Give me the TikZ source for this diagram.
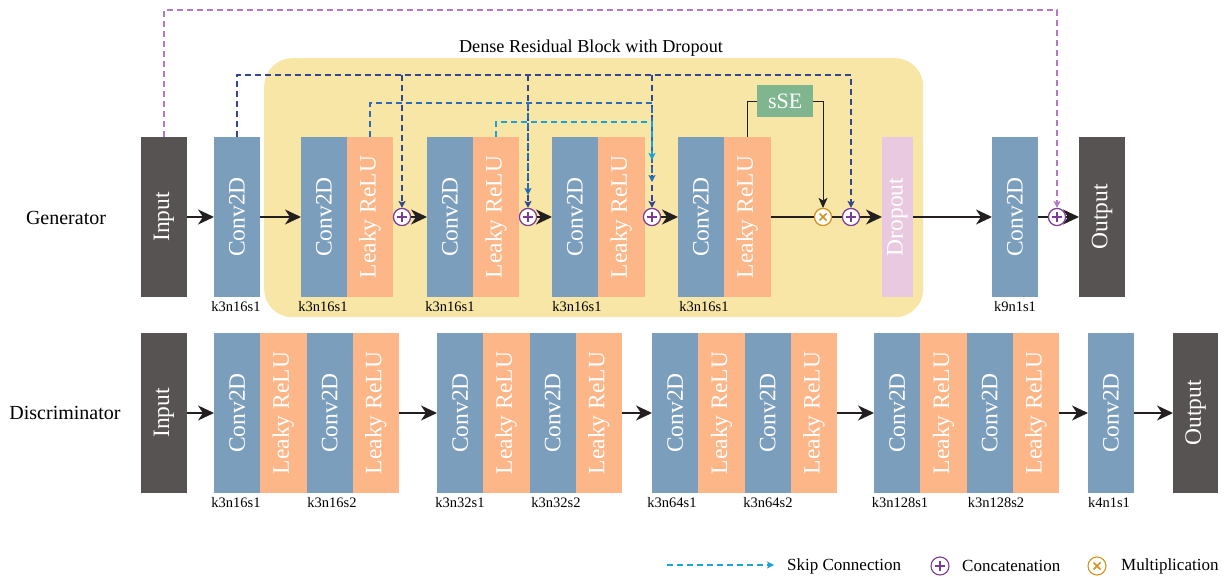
\documentclass[tikz,border=0pt]{standalone}
\usepackage{fontspec}
\usepackage{graphicx}
\setmainfont{Liberation Serif}
\usetikzlibrary{arrows.meta}
\definecolor{darkbox}{HTML}{575352}
\definecolor{convc}{HTML}{7C9EBD}
\definecolor{reluc}{HTML}{FCB688}
\definecolor{yelc}{HTML}{F8E6A6}
\definecolor{ssec}{HTML}{7FB690}
\definecolor{dropc}{HTML}{E8C9DF}
\definecolor{purc}{HTML}{B678C6}
\definecolor{dkbc}{HTML}{33468E}
\definecolor{mdbc}{HTML}{2A6CB5}
\definecolor{cybc}{HTML}{1CA2D6}
\definecolor{concc}{HTML}{7B3B98}
\definecolor{multc}{HTML}{D4921E}
\definecolor{arrc}{HTML}{231F20}
\newcommand\vtxt[1]{\rotatebox{90}{#1}}
\begin{document}
\begin{tikzpicture}[x=1pt,y=-1pt,
  box/.style={anchor=north west, inner sep=0pt, outer sep=0pt, minimum height=160pt, text=white, font=\fontsize{23.5}{28}\selectfont},
  darkb/.style={box, fill=darkbox, minimum width=46pt},
  conv/.style={box, fill=convc, minimum width=#1},
  conv/.default=46pt,
  relu/.style={box, fill=reluc, minimum width=#1},
  relu/.default=46pt,
  lab/.style={font=\fontsize{14.5}{16}\selectfont, inner sep=0pt},
  rowlab/.style={font=\fontsize{20}{24}\selectfont, inner sep=0pt},
  leg/.style={font=\fontsize{17}{20}\selectfont, inner sep=0pt, anchor=west},
  flow/.style={draw=arrc, line width=1.5pt, -{Stealth[length=16pt,width=15pt,inset=5pt]}},
  plainline/.style={draw=arrc, line width=1.5pt},
  skipline/.style={line width=1.1pt, dash pattern=on 6pt off 4pt},
  smalltip/.style={-{Stealth[length=7pt,width=7pt,inset=1.5pt]}},
  concat/.style={circle, draw=concc, fill=white, line width=1.1pt, minimum size=17pt, inner sep=0pt,
    path picture={\draw[concc, line width=1.7pt] (path picture bounding box.center) ++(-4.8pt,0pt) -- ++(9.6pt,0pt);
                  \draw[concc, line width=1.7pt] (path picture bounding box.center) ++(0pt,-4.8pt) -- ++(0pt,9.6pt);}},
  mult/.style={circle, draw=multc, fill=white, line width=1.1pt, minimum size=17pt, inner sep=0pt,
    path picture={\draw[multc, line width=1.7pt] (path picture bounding box.center) ++(-3.5pt,-3.5pt) -- ++(7pt,7pt);
                  \draw[multc, line width=1.7pt] (path picture bounding box.center) ++(-3.5pt,3.5pt) -- ++(7pt,-7pt);}}
]
\useasboundingbox (0,0) rectangle (1229,577);

% ---------- Generator ----------
\node[fill=yelc, rounded corners=28pt, minimum width=659pt, minimum height=259pt, anchor=north west, inner sep=0pt] (drb) at (264,58) {};
\node[font=\fontsize{18.2}{22}\selectfont, inner sep=0pt] (title) at (591,48) {Dense Residual Block with Dropout};
\node[rowlab] (genlab) at (66,218) {Generator};

\node[darkb] (gin) at (141,137) {\vtxt{Input}};
\node[conv] (gc0) at (214,137) {\vtxt{Conv2D}};
\node[conv] (b1c) at (301,137) {\vtxt{Conv2D}};
\node[relu] (b1r) at (347,137) {\vtxt{Leaky ReLU}};
\node[conv] (b2c) at (427,137) {\vtxt{Conv2D}};
\node[relu] (b2r) at (473,137) {\vtxt{Leaky ReLU}};
\node[conv] (b3c) at (552,137) {\vtxt{Conv2D}};
\node[relu=46.5pt] (b3r) at (598,137) {\vtxt{Leaky ReLU}};
\node[conv] (b4c) at (678,137) {\vtxt{Conv2D}};
\node[relu=46.5pt] (b4r) at (724,137) {\vtxt{Leaky ReLU}};
\node[box, fill=dropc, minimum width=31pt] (drop) at (882,137) {\vtxt{Dropout}};
\node[conv] (gc5) at (992,137) {\vtxt{Conv2D}};
\node[darkb] (gout) at (1079,137) {\vtxt{Output}};
\node[anchor=north west, fill=ssec, minimum width=56pt, minimum height=32pt, inner sep=0pt, text=white, font=\fontsize{22}{24}\selectfont] (sse) at (757,85) {sSE};

\node[lab] (gl0) at (236,307) {k3n16s1};
\node[lab] (gl1) at (323,307) {k3n16s1};
\node[lab] (gl2) at (450,307) {k3n16s1};
\node[lab] (gl3) at (577,307) {k3n16s1};
\node[lab] (gl4) at (704,307) {k3n16s1};
\node[lab] (gl5) at (1015,307) {k9n1s1};

% skip connection lines
\coordinate (lvpu) at (0,10);
\coordinate (lvdk) at (0,75);
\coordinate (lvmd) at (0,103);
\coordinate (lvcy) at (0,122);
\coordinate (md2) at (528,195);
\coordinate (md3) at (652,182);
\coordinate (cy3) at (652,160);

\node[concat] (p1) at (402,217) {};
\node[concat] (p2) at (528,217) {};
\node[concat] (p3) at (652,217) {};
\node[mult] (m1) at (823,217) {};
\node[concat] (p4) at (851,217) {};
\node[concat] (p5) at (1057,217) {};

\draw[skipline, draw=purc, smalltip, -{Stealth[length=7pt,width=7pt,inset=1.5pt,fill=purc]}] (gin.north) -- (gin.north |- lvpu) -| (p5.north);

\draw[skipline, draw=dkbc, -{Stealth[length=7pt,width=7pt,inset=1.5pt]}] (gc0.north) -- (gc0.north |- lvdk) -| (p4.north);
\draw[skipline, draw=dkbc, -{Stealth[length=7pt,width=7pt,inset=1.5pt]}] (p1.north |- lvdk) -- (p1.north);
\draw[skipline, draw=dkbc, -{Stealth[length=7pt,width=7pt,inset=1.5pt]}] (p2.north |- lvdk) -- (p2.north);
\draw[skipline, draw=dkbc, -{Stealth[length=7pt,width=7pt,inset=1.5pt]}] (p3.north |- lvdk) -- (p3.north);

\draw[skipline, draw=mdbc, -{Stealth[length=7pt,width=7pt,inset=1.5pt]}] (b1r.north) -- (b1r.north |- lvmd) -| (md3);
\draw[skipline, draw=mdbc, -{Stealth[length=7pt,width=7pt,inset=1.5pt]}] (md2 |- lvmd) -- (md2);

\draw[skipline, draw=cybc, -{Stealth[length=7pt,width=7pt,inset=1.5pt]}] (b2r.north) -- (b2r.north |- lvcy) -| (cy3);

% sSE
\draw[draw=arrc, line width=0.9pt] (b4r.north) |- (sse.west);
\draw[draw=arrc, line width=0.9pt, -{Stealth[length=10pt,width=9pt,inset=2.5pt]}] (sse.east) -| (m1.north);

% main flow
\draw[flow] (gin) -- (gc0);
\draw[flow] (gc0) -- (b1c);
\draw[flow] (p1) -- (b2c);
\draw[flow] (p2) -- (b3c);
\draw[flow] (p3) -- (b4c);
\draw[plainline] (b4r) -- (m1);
\draw[plainline] (m1) -- (p4);
\draw[flow] (p4) -- (drop);
\draw[flow] (drop) -- (gc5);
\draw[plainline] (gc5) -- (p5);
\draw[flow] (p5) -- (gout);

% redraw circles on top
\node[concat] at (p1) {};
\node[concat] at (p2) {};
\node[concat] at (p3) {};
\node[mult] at (m1) {};
\node[concat] at (p4) {};
\node[concat] at (p5) {};

% ---------- Discriminator ----------
\node[rowlab] (dislab) at (65,413) {Discriminator};
\node[darkb] (din) at (141,333) {\vtxt{Input}};
\node[conv=46.25pt] (d1c) at (214,333) {\vtxt{Conv2D}};
\node[relu=46.25pt] (d1r) at (260.25,333) {\vtxt{Leaky ReLU}};
\node[conv=46.25pt] (d2c) at (306.5,333) {\vtxt{Conv2D}};
\node[relu=46.25pt] (d2r) at (352.75,333) {\vtxt{Leaky ReLU}};
\node[conv=46.25pt] (e1c) at (437,333) {\vtxt{Conv2D}};
\node[relu=46.25pt] (e1r) at (483.25,333) {\vtxt{Leaky ReLU}};
\node[conv=46.25pt] (e2c) at (529.5,333) {\vtxt{Conv2D}};
\node[relu=46.25pt] (e2r) at (575.75,333) {\vtxt{Leaky ReLU}};
\node[conv=46.25pt] (f1c) at (652,333) {\vtxt{Conv2D}};
\node[relu=46.25pt] (f1r) at (698.25,333) {\vtxt{Leaky ReLU}};
\node[conv=46.25pt] (f2c) at (744.5,333) {\vtxt{Conv2D}};
\node[relu=46.25pt] (f2r) at (790.75,333) {\vtxt{Leaky ReLU}};
\node[conv=46.25pt] (h1c) at (874,333) {\vtxt{Conv2D}};
\node[relu=46.25pt] (h1r) at (920.25,333) {\vtxt{Leaky ReLU}};
\node[conv=46.25pt] (h2c) at (966.5,333) {\vtxt{Conv2D}};
\node[relu=46.25pt] (h2r) at (1012.75,333) {\vtxt{Leaky ReLU}};
\node[conv] (dc) at (1088,333) {\vtxt{Conv2D}};
\node[darkb, minimum width=45pt] (dout) at (1173,333) {\vtxt{Output}};

\draw[flow] (din) -- (d1c);
\draw[flow] (d2r) -- (e1c);
\draw[flow] (e2r) -- (f1c);
\draw[flow] (f2r) -- (h1c);
\draw[flow] (h2r) -- (dc);
\draw[flow] (dc) -- (dout);

\node[lab] (dl1) at (236,503) {k3n16s1};
\node[lab] (dl2) at (332,503) {k3n16s2};
\node[lab] (dl3) at (460,503) {k3n32s1};
\node[lab] (dl4) at (556,503) {k3n32s2};
\node[lab] (dl5) at (672,503) {k3n64s1};
\node[lab] (dl6) at (768,503) {k3n64s2};
\node[lab] (dl7) at (900,503) {k3n128s1};
\node[lab] (dl8) at (996,503) {k3n128s2};
\node[lab] (dl9) at (1109,503) {k4n1s1};

% ---------- Legend ----------
\coordinate (lg1) at (667,565);
\coordinate (lg2) at (774,565);
\draw[skipline, draw=cybc, -{Stealth[length=7pt,width=7pt,inset=1.5pt]}] (lg1) -- (lg2);
\node[leg] (lgt1) at (787,566) {Skip Connection};
\node[concat, minimum size=18pt] (lgc) at (940,566) {};
\node[leg] (lgt2) at (962,566) {Concatenation};
\node[mult, minimum size=18pt] (lgm) at (1097,566) {};
\node[leg] (lgt3) at (1121,566) {Multiplication};
\end{tikzpicture}
\end{document}
